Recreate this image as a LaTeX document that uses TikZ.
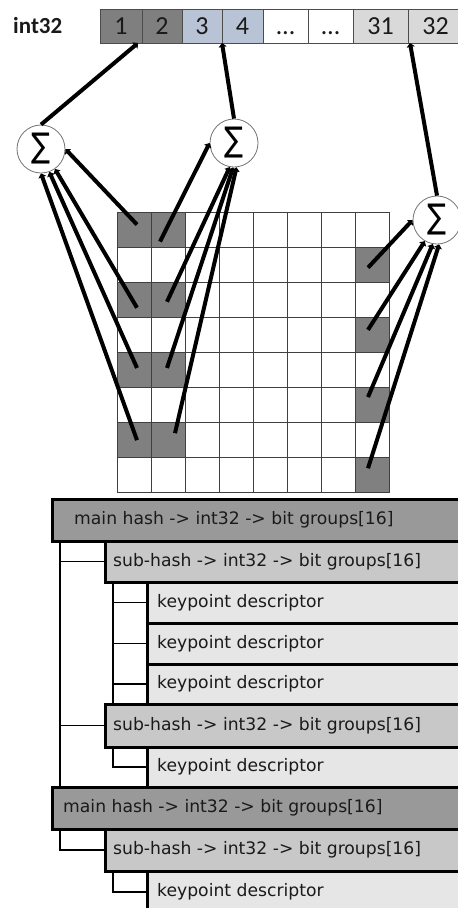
\documentclass[tikz,border=0pt]{standalone}
\usepackage{fontspec}
\usepackage{graphicx}
\setmainfont{DejaVu Sans}
\newfontfamily\calib{Carlito}
\newfontfamily\dvs{DejaVu Sans}
\usetikzlibrary{arrows.meta}
\definecolor{bardark}{HTML}{7F7F7F}
\definecolor{barblue}{HTML}{B8C4D6}
\definecolor{barlight}{HTML}{D9D9D9}
\definecolor{gridfill}{HTML}{808080}
\definecolor{mainfill}{HTML}{999999}
\definecolor{subfill}{HTML}{C8C8C8}
\definecolor{keyfill}{HTML}{E6E6E6}
\definecolor{txt}{HTML}{1A1A1A}
\tikzset{
  barcell/.style={draw=black!70, line width=0.8pt, anchor=north west, inner sep=0pt, outer sep=0pt,
    minimum height=34pt, text height=17.5pt, text depth=0pt, text=txt,
    font=\calib\fontsize{26}{29}\selectfont},
  gcell/.style={draw=black!75, line width=0.8pt, anchor=north west, inner sep=0pt, outer sep=0pt,
    minimum width=34pt, minimum height=35.1pt},
  sig/.style={circle, draw=black!55, line width=0.8pt, fill=white, minimum size=48pt, inner sep=0pt},
  conn/.style={line width=4pt, black, -{Triangle[length=4pt,width=8pt]}},
  treebox/.style={draw=black, line width=3pt, anchor=north west, inner sep=0pt, outer sep=0pt},
  lbl/.style={anchor=west, inner sep=0pt, text=txt, font=\fontsize{17.2}{20}\selectfont},
  tree/.style={line width=1.5pt, black},
}
\begin{document}
\begin{tikzpicture}[x=1pt,y=-1pt]
\useasboundingbox (0,0) rectangle (458,908);
\clip (0,0) rectangle (458,908);

% label
\node[anchor=base west, inner sep=0pt, text=txt, font=\calib\bfseries\fontsize{23}{26}\selectfont] (lab) at (13,33) {int32};

% bar cells
\node[barcell, fill=bardark, minimum width=42pt] (c1) at (100,9) {1};
\node[barcell, fill=bardark, minimum width=40pt] (c2) at (142,9) {2};
\node[barcell, fill=barblue, minimum width=40pt] (c3) at (182,9) {3};
\node[barcell, fill=barblue, minimum width=41pt] (c4) at (222,9) {4};
\node[barcell, fill=white, minimum width=45pt] (c5) at (263,9) {…};
\node[barcell, fill=white, minimum width=45pt] (c6) at (308,9) {…};
\node[barcell, fill=barlight, minimum width=55pt] (c7) at (353,9) {31};
\node[barcell, fill=barlight, minimum width=55pt] (c8) at (408,9) {32};

% grid
\foreach \c in {0,...,7}{
  \foreach \r in {0,...,7}{
    \pgfmathtruncatemacro\dk{((\c<2)&&(mod(\r,2)==0))||((\c==7)&&(mod(\r,2)==1))}
    \ifnum\dk=1 \def\gf{gridfill}\else\def\gf{white}\fi
    \node[gcell, fill=\gf] (g-\c-\r) at ({117+34*\c},{212+35.1*\r}) {};
  }
}

% sum nodes
\node[sig] (s1) at (41,149) {\resizebox*{19pt}{31pt}{\dvs ∑}};
\node[sig] (s2) at (234,143) {\resizebox*{19pt}{31pt}{\dvs ∑}};
\node[sig] (s3) at (437,220) {\resizebox*{19pt}{31pt}{\dvs ∑}};

% sums to int32 bits
\draw[conn] (s1.north) -- ([xshift=-4pt]c1.south east);
\draw[conn] (s2.north) -- (c4.south west);
\draw[conn] (s3.north) -- ([xshift=2pt]c8.south west);

% cells to sums
\draw[conn] ([shift={(3,-5)}]g-0-0.center) -- (s1.east);
\draw[conn] ([shift={(3,8)}]g-0-2.center) -- (s1.-55);
\draw[conn] ([shift={(3,-2)}]g-0-4.center) -- (s1.-70);
\draw[conn] ([shift={(3,0)}]g-0-6.center) -- (s1.-90);

\draw[conn] ([shift={(-8,12)}]g-1-0.center) -- (s2.west);
\draw[conn] ([shift={(-1,2)}]g-1-2.center) -- (s2.-100);
\draw[conn] ([shift={(-1,-2)}]g-1-4.center) -- (s2.-92);
\draw[conn] ([shift={(7,-7)}]g-1-6.center) -- (s2.-84);

\draw[conn] ([shift={(-4,3)}]g-7-1.center) -- (s3.west);
\draw[conn] ([shift={(-4,-5)}]g-7-3.center) -- (s3.-120);
\draw[conn] ([shift={(-4,-8)}]g-7-5.center) -- (s3.-100);
\draw[conn] ([shift={(-4,-7)}]g-7-7.center) -- (s3.-85);

% tree boxes
\node[treebox, fill=mainfill, minimum width=423pt, minimum height=42pt] (m1) at (52,499) {};
\node[treebox, fill=subfill, minimum width=370pt, minimum height=41pt] (sb1) at (105,541) {};
\node[treebox, fill=keyfill, minimum width=328pt, minimum height=41pt] (k1) at (147,582) {};
\node[treebox, fill=keyfill, minimum width=328pt, minimum height=41pt] (k2) at (147,623) {};
\node[treebox, fill=keyfill, minimum width=328pt, minimum height=40pt] (k3) at (147,664) {};
\node[treebox, fill=subfill, minimum width=370pt, minimum height=43pt] (sb2) at (105,704) {};
\node[treebox, fill=keyfill, minimum width=328pt, minimum height=40pt] (k4) at (147,747) {};
\node[treebox, fill=mainfill, minimum width=423pt, minimum height=42pt] (m2) at (52,787) {};
\node[treebox, fill=subfill, minimum width=370pt, minimum height=42pt] (sb3) at (105,829) {};
\node[treebox, fill=keyfill, minimum width=328pt, minimum height=42pt] (k5) at (147,871) {};

% labels
\node[lbl] (tm1) at ([xshift=22pt]m1.west) {main hash -> int32 -> bit groups[16]};
\node[lbl] (tsb1) at ([xshift=8pt]sb1.west) {sub-hash -> int32 -> bit groups[16]};
\node[lbl] (tk1) at ([xshift=10pt]k1.west) {keypoint descriptor};
\node[lbl] (tk2) at ([xshift=10pt]k2.west) {keypoint descriptor};
\node[lbl] (tk3) at ([xshift=10pt]k3.west) {keypoint descriptor};
\node[lbl] (tsb2) at ([xshift=8pt]sb2.west) {sub-hash -> int32 -> bit groups[16]};
\node[lbl] (tk4) at ([xshift=10pt]k4.west) {keypoint descriptor};
\node[lbl] (tm2) at ([xshift=11pt]m2.west) {main hash -> int32 -> bit groups[16]};
\node[lbl] (tsb3) at ([xshift=8pt]sb3.west) {sub-hash -> int32 -> bit groups[16]};
\node[lbl] (tk5) at ([xshift=10pt]k5.west) {keypoint descriptor};

% tree connectors
\coordinate (v1) at ([xshift=8pt]m1.south west);
\coordinate (v2) at ([xshift=8pt]sb1.south west);
\coordinate (v3) at ([xshift=8pt]sb2.south west);
\coordinate (v4) at ([xshift=8pt]m2.south west);
\coordinate (v5) at ([xshift=8pt]sb3.south west);
\draw[tree] (v1) -- (v1 |- m2.north);
\draw[tree] (v1 |- sb1.west) -- (sb1.west);
\draw[tree] (v1 |- sb2.west) -- (sb2.west);
\draw[tree] (v2) -- (v2 |- sb2.north);
\draw[tree] (v2 |- k1.west) -- (k1.west);
\draw[tree] (v2 |- k2.west) -- (k2.west);
\draw[tree] (v2 |- k3.west) -- (k3.west);
\draw[tree] (v3) |- (k4.west);
\draw[tree] (v4) |- (sb3.west);
\draw[tree] (v5) |- (k5.west);
\end{tikzpicture}
\end{document}
